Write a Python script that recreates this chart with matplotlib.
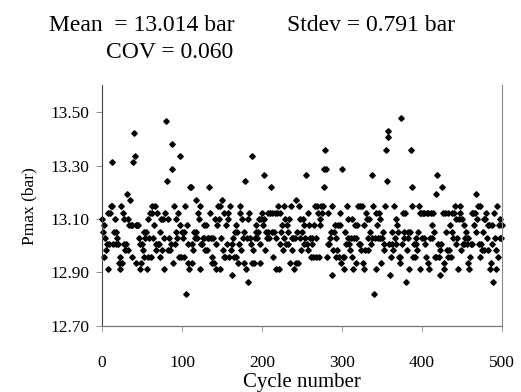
import numpy as np
import matplotlib
matplotlib.use('Agg')
import matplotlib.pyplot as plt

# Pmax for every engine cycle (bar)
pmax = [
    13.100, 13.053, 12.959, 13.077, 13.030, 12.983, 13.006, 13.124, 12.912, 13.006,
    13.124, 13.147, 13.312, 13.147, 13.006, 13.053, 13.100, 13.006, 13.053, 13.030,
    13.006, 12.936, 12.912, 12.959, 13.147, 12.936, 13.124, 13.100, 13.006, 12.983,
    13.006, 13.194, 12.983, 13.100, 13.077, 13.171, 13.077, 12.959, 13.077, 13.312,
    13.420, 13.335, 13.077, 12.936, 13.077, 13.077, 13.030, 13.006, 12.912, 12.936,
    13.006, 12.983, 13.053, 12.959, 13.030, 13.053, 12.912, 13.100, 12.959, 13.030,
    13.124, 12.959, 13.124, 13.147, 13.030, 13.077, 13.147, 13.006, 12.983, 13.124,
    13.006, 13.006, 13.053, 12.959, 13.100, 12.983, 13.100, 13.030, 12.912, 13.124,
    13.465, 13.241, 13.100, 12.983, 13.030, 12.983, 13.006, 13.382, 13.288, 12.936,
    13.147, 13.006, 13.053, 13.100, 13.030, 13.124, 12.959, 13.077, 13.335, 12.959,
    13.053, 13.030, 13.053, 12.959, 13.147, 12.818, 13.077, 12.936, 13.006, 12.912,
    13.218, 13.218, 13.006, 12.936, 12.983, 13.053, 13.030, 13.171, 13.053, 13.030,
    13.124, 13.100, 13.147, 12.912, 13.006, 13.006, 13.030, 13.077, 13.030, 12.983,
    13.077, 12.983, 13.030, 13.030, 13.218, 13.124, 13.030, 12.936, 12.959, 13.030,
    12.936, 13.100, 13.006, 12.912, 13.077, 13.147, 13.100, 12.912, 13.147, 13.030,
    13.171, 12.983, 13.124, 12.959, 12.959, 13.077, 13.006, 13.100, 13.124, 12.959,
    13.147, 12.983, 13.006, 12.889, 13.030, 12.959, 13.053, 13.077, 12.959, 13.053,
    12.936, 13.006, 13.147, 13.124, 12.983, 13.100, 13.030, 13.053, 12.936, 13.241,
    12.912, 13.030, 13.100, 12.865, 13.124, 13.030, 13.006, 13.335, 12.936, 12.983,
    12.936, 13.030, 13.053, 13.077, 13.030, 13.053, 13.100, 12.936, 13.006, 13.100,
    13.124, 13.077, 13.265, 13.100, 12.983, 13.053, 13.030, 13.053, 13.124, 13.030,
    13.124, 13.218, 13.053, 13.124, 12.959, 13.053, 13.124, 13.030, 12.912, 13.124,
    13.147, 12.912, 13.124, 13.006, 13.053, 13.077, 12.983, 13.147, 13.030, 13.100,
    13.006, 13.077, 13.053, 13.006, 13.100, 12.936, 13.147, 12.983, 13.030, 13.030,
    12.912, 13.030, 13.171, 12.936, 13.053, 12.936, 13.147, 13.100, 13.030, 12.983,
    13.053, 13.100, 13.006, 13.077, 13.030, 13.265, 13.006, 13.124, 12.983, 13.077,
    13.030, 12.959, 13.006, 13.030, 12.959, 13.077, 13.147, 12.959, 13.030, 13.147,
    13.124, 12.959, 13.100, 13.077, 13.147, 13.124, 13.147, 13.288, 13.218, 13.359,
    13.288, 12.959, 13.006, 13.124, 13.006, 13.030, 13.053, 13.147, 12.889, 12.983,
    13.053, 13.077, 12.959, 13.030, 12.983, 13.077, 12.959, 13.124, 13.077, 12.936,
    13.288, 12.959, 12.912, 12.959, 13.053, 13.006, 13.147, 13.030, 13.100, 13.006,
    12.983, 13.030, 12.959, 13.100, 12.912, 13.030, 13.077, 12.936, 13.030, 13.077,
    13.147, 13.006, 13.147, 13.006, 12.983, 13.147, 12.936, 13.077, 12.912, 12.983,
    13.124, 13.100, 12.983, 13.030, 13.100, 13.053, 13.006, 13.265, 13.030, 13.147,
    12.818, 13.030, 13.124, 12.912, 13.077, 13.030, 13.124, 13.030, 13.100, 12.936,
    13.030, 13.053, 12.983, 13.006, 13.147, 13.359, 13.241, 13.406, 13.429, 13.006,
    12.889, 12.959, 13.006, 13.053, 12.983, 13.147, 13.030, 13.100, 13.006, 13.077,
    13.053, 12.959, 12.959, 12.936, 13.476, 13.006, 13.124, 13.030, 13.053, 13.124,
    12.865, 12.983, 13.053, 13.030, 12.912, 13.053, 13.359, 13.218, 13.147, 12.959,
    13.006, 12.959, 13.006, 13.030, 12.983, 13.053, 13.147, 13.124, 12.912, 13.124,
    13.030, 13.124, 13.030, 13.124, 13.006, 12.959, 13.124, 12.936, 13.124, 12.912,
    13.030, 13.124, 13.030, 13.077, 13.124, 13.053, 12.959, 13.194, 12.959, 13.265,
    13.006, 12.959, 12.983, 12.889, 13.006, 13.218, 13.124, 12.936, 12.912, 13.124,
    13.053, 12.983, 13.124, 12.959, 12.983, 13.077, 12.959, 13.124, 13.053, 13.030,
    13.124, 13.147, 13.100, 13.006, 13.030, 12.912, 13.100, 13.147, 13.124, 12.983,
    13.100, 13.006, 13.077, 13.006, 13.030, 13.053, 13.006, 13.030, 12.936, 12.912,
    12.959, 13.006, 13.124, 13.006, 13.124, 13.077, 13.124, 13.053, 13.194, 13.100,
    13.147, 13.006, 13.147, 12.959, 13.006, 12.983, 13.053, 13.100, 12.983, 13.100,
    13.124, 13.030, 13.077, 12.983, 13.077, 12.912, 12.936, 13.077, 13.006, 12.865,
    13.124, 13.030, 12.983, 12.912, 13.147, 12.959, 13.077, 13.030, 13.100, 13.030,
    13.077,
]
cycles = np.arange(len(pmax))

x_ticks = [0, 100, 200, 300, 400, 500]
y_ticks = [12.70, 12.90, 13.10, 13.30, 13.50]
stats_line1 = 'Mean  = 13.014 bar'
stats_line2 = 'Stdev = 0.791 bar'
stats_line3 = 'COV = 0.060'

plt.rcParams['font.family'] = ['Liberation Serif', 'DejaVu Serif']

fig = plt.figure(figsize=(5.21, 3.92), dpi=100)
ax = fig.add_axes([0.1958, 0.1684, 0.7678, 0.6141])

# black diamonds, one per cycle
ax.plot(cycles, pmax, linestyle='none', marker='D', markersize=2.8,
        color='black', clip_on=False)

ax.set_xlim(0, 500)
ax.set_ylim(12.70, 13.60)
ax.set_xticks(x_ticks)
ax.set_yticks(y_ticks)
ax.set_yticklabels([f'{v:.2f}' for v in y_ticks])

ax.tick_params(axis='y', direction='out', length=4, width=0.6,
               color='#777777', labelsize=12.5, pad=5)
ax.tick_params(axis='x', direction='out', length=4, width=0.6,
               color='#999999', labelsize=12.5, pad=17)

# scanned excel look: solid left axis, grey dotted frame elsewhere
ax.spines['left'].set_color('#444444')
ax.spines['left'].set_linewidth(0.8)
ax.spines['bottom'].set_color('#777777')
ax.spines['bottom'].set_linewidth(0.9)
ax.spines['right'].set_color('#888888')
ax.spines['right'].set_linestyle((0, (1, 1)))
ax.spines['right'].set_linewidth(0.8)
ax.spines['top'].set_visible(False)

fig.text(29 / 521, 1 - 206 / 392, 'Pmax (bar)', rotation=90,
         ha='center', va='center', fontsize=12.5)
fig.text(302 / 521, 1 - 383 / 392, 'Cycle number',
         ha='center', va='center', fontsize=15)

fig.text(49 / 521, 1 - 30.7 / 392, stats_line1, ha='left',
         va='baseline', fontsize=17)
fig.text(287 / 521, 1 - 30.7 / 392, stats_line2, ha='left',
         va='baseline', fontsize=17)
fig.text(106 / 521, 1 - 57.7 / 392, stats_line3, ha='left',
         va='baseline', fontsize=17)

fig.savefig('out.png', dpi=100)
